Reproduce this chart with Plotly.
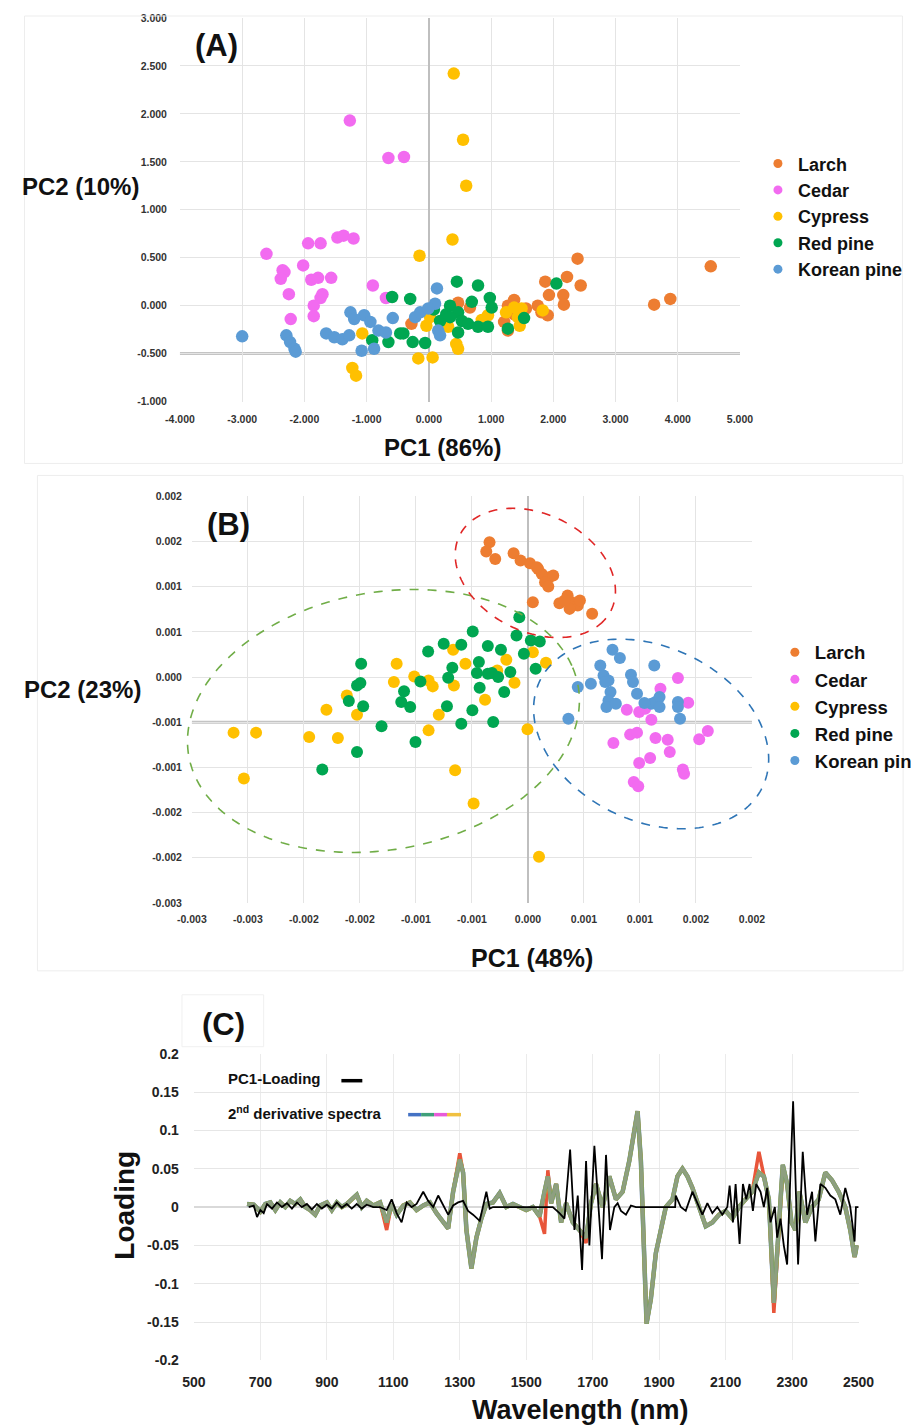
import numpy as np
import plotly.graph_objects as go

W, H = 919, 1427
# observed placement of the page in the photograph: X = 0.962*x + 20.5 ; Y = 0.99*y + 14
SX, OX, SY, OY = 0.962, 20.5, 0.99, 14.0


def px(x):
    return min(max(((x - OX) / SX) / W, 0.0), 1.0)


def py(y):
    return min(max(1 - ((y - OY) / SY) / H, 0.0), 1.0)


species = ["Larch", "Cedar", "Cypress", "Red pine", "Korean pine"]
colors = ["#ED7D31", "#F26BF0", "#FFC000", "#00A651", "#5B9BD5"]

# ---------------- Panel A (PC1 86% / PC2 10%) ----------------
larch_a_pc1 = [4.53, 3.88, 3.62, 2.39, 2.22, 2.44, 1.87, 1.93, 2.16, 2.17, 1.91, 1.75, 1.81, 1.37, 1.27, 1.21, 1.27, 1.56, 0.47, 0.66, -0.28, 1.37]
larch_a_pc2 = [0.41, 0.07, 0.01, 0.49, 0.30, 0.21, 0.25, 0.11, 0.11, 0.01, -0.10, 0.00, -0.07, 0.06, 0.00, -0.17, -0.26, -0.03, 0.03, -0.02, -0.19, -0.09]
cedar_a_pc1 = [-1.27, -0.65, -0.40, -1.47, -1.37, -1.21, -1.94, -1.74, -2.61, -2.02, -2.35, -2.32, -2.38, -1.89, -1.78, -1.57, -2.25, -1.71, -1.74, -0.90, -1.85, -2.22, -1.85, -0.69]
cedar_a_pc2 = [1.93, 1.54, 1.55, 0.71, 0.73, 0.70, 0.65, 0.65, 0.54, 0.42, 0.37, 0.35, 0.28, 0.27, 0.29, 0.29, 0.12, 0.12, 0.08, 0.21, 0.00, -0.14, -0.11, 0.08]
cypress_a_pc1 = [0.40, 0.55, 0.60, 0.38, -0.15, -1.23, -1.17, -0.17, 0.06, 0.47, 0.44, 1.24, 1.37, 1.43, 1.49, 0.95, 0.85, 0.02, 0.31, 1.46, 1.83, -0.04, -1.07]
cypress_a_pc2 = [2.42, 1.73, 1.25, 0.69, 0.52, -0.65, -0.73, -0.55, -0.54, -0.45, -0.40, -0.07, -0.02, -0.12, -0.03, -0.10, -0.15, -0.12, -0.22, -0.21, -0.05, -0.21, -0.29]
redpine_a_pc1 = [-0.59, -0.30, 0.45, 0.79, 2.05, 0.98, 1.01, 0.69, 0.34, 0.47, 0.28, 0.18, 0.53, 0.63, 0.47, 0.79, 0.95, 1.27, 1.53, -0.91, -0.65, -0.46, -0.41, -0.26, -0.06, 0.08, 0.34]
redpine_a_pc2 = [0.09, 0.07, 0.25, 0.21, 0.23, 0.08, -0.02, 0.04, 0.00, -0.07, -0.09, -0.16, -0.16, -0.19, -0.28, -0.22, -0.22, -0.24, -0.13, -0.36, -0.38, -0.29, -0.29, -0.38, -0.39, -0.04, -0.12]
korean_a_pc1 = [-3.00, -2.29, -2.23, -2.16, -2.14, -1.65, -1.52, -1.39, -1.28, -1.26, -1.04, -0.94, -1.08, -0.88, -0.81, -0.69, -0.58, -0.22, -0.14, 0.13, 0.10, 0.15, 0.18, -0.01, -1.20]
korean_a_pc2 = [-0.32, -0.31, -0.38, -0.45, -0.48, -0.29, -0.33, -0.35, -0.31, -0.07, -0.10, -0.17, -0.47, -0.45, -0.26, -0.28, -0.13, -0.12, -0.07, 0.18, 0.02, -0.26, -0.31, -0.03, -0.14]

a_ticks_x = [-4, -3, -2, -1, 0, 1, 2, 3, 4, 5]
a_ticktext_x = ["-4.000", "-3.000", "-2.000", "-1.000", "0.000", "1.000", "2.000", "3.000", "4.000", "5.000"]
a_ticks_y = [-1.0, -0.5, 0.0, 0.5, 1.0, 1.5, 2.0, 2.5, 3.0]
a_ticktext_y = ["-1.000", "-0.500", "0.000", "0.500", "1.000", "1.500", "2.000", "2.500", "3.000"]

# ---------------- Panel B (PC1 48% / PC2 23%), values in units of 1e-4 ----------------
larch_b_pc1 = [-3.43, -3.72, -2.92, -1.28, -0.66, 0.18, 0.91, 1.24, 1.90, 2.26, 1.53, 1.82, 0.44, 2.81, 3.54, 3.91, 4.45, 4.64, 3.72, 5.73, 3.28, 0.80]
larch_b_pc2 = [14.92, 13.89, 13.08, 13.71, 12.90, 12.60, 11.97, 11.42, 11.05, 11.24, 10.50, 10.02, 8.29, 8.18, 9.03, 8.29, 7.92, 8.47, 7.55, 7.00, 8.47, 12.16]
cedar_b_pc1 = [13.39, 11.83, 14.31, 8.83, 9.93, 10.47, 11.02, 9.12, 9.74, 11.39, 12.48, 7.63, 16.06, 15.29, 12.66, 9.93, 10.91, 13.83, 13.94, 9.45, 9.85]
cedar_b_pc2 = [-0.11, -1.29, -2.84, -3.61, -3.87, -3.50, -4.72, -6.37, -6.15, -6.74, -6.93, -7.30, -5.97, -6.89, -8.29, -9.51, -8.95, -10.24, -10.69, -11.61, -12.09]
cypress_b_pc1 = [-6.68, -11.72, -5.58, 0.44, 1.61, -1.93, -11.97, -10.15, -8.87, -8.50, -6.61, -2.74, -1.20, -3.83, -16.17, -17.99, -15.26, -7.96, -8.87, -26.28, -24.27, -19.53, -16.97, -0.04, -25.36, -6.50, -4.85, 0.99]
cypress_b_pc2 = [3.02, 1.47, 1.47, 2.76, 1.58, 1.92, -0.55, 0.07, -0.37, -1.03, -0.92, 0.74, -0.63, -2.51, -2.03, -3.61, -4.16, -4.16, -5.90, -6.15, -6.15, -6.63, -6.74, -5.78, -11.24, -10.32, -14.00, -19.90]
redpine_b_pc1 = [-0.77, -4.93, -1.02, 0.26, 1.06, -0.36, 0.69, -8.91, -7.52, -5.95, -3.58, -2.41, -4.38, -6.75, -3.21, -2.66, -1.57, -4.56, -7.12, -9.60, -11.06, -11.31, -10.51, -7.23, -4.31, -2.12, -4.96, -14.89, -15.26, -14.96, -15.99, -14.71, -13.07, -5.95, -3.10, -10.04, -15.26, -18.36, -3.58]
redpine_b_pc2 = [6.63, 5.05, 4.61, 4.05, 3.94, 2.58, 0.92, 2.84, 3.68, 3.57, 3.43, 3.02, 1.66, 1.03, 0.44, 0.00, 0.55, 0.44, -0.07, -0.48, -1.58, -2.76, -3.32, -3.24, -1.18, -1.66, -3.68, 1.47, -0.92, -0.66, -2.65, -3.24, -5.45, -5.16, -4.97, -7.19, -8.29, -10.24, 0.37]
korean_b_pc1 = [7.55, 8.21, 6.46, 5.62, 4.45, 6.75, 7.19, 6.90, 7.37, 7.19, 7.01, 7.85, 9.20, 9.38, 9.74, 11.28, 11.02, 11.39, 11.75, 11.75, 10.40, 13.39, 13.39, 13.58, 3.61]
korean_b_pc2 = [3.02, 2.10, 1.29, -0.74, -1.11, 0.18, -0.37, -0.55, -1.66, -2.58, -3.32, -2.95, 0.26, -0.55, -1.84, 1.29, -2.95, -2.76, -2.21, -3.32, -2.87, -2.76, -3.32, -4.61, -4.61]

b_ticks_x = [-30, -25, -20, -15, -10, -5, 0, 5, 10, 15, 20]
b_ticktext_x = ["-0.003", "-0.003", "-0.002", "-0.002", "-0.001", "-0.001", "0.000", "0.001", "0.001", "0.002", "0.002"]
b_ticks_y = [-25, -20, -15, -10, -5, 0, 5, 10, 15, 20]
b_ticktext_y = ["-0.003", "-0.002", "-0.002", "-0.001", "-0.001", "0.000", "0.001", "0.001", "0.002", "0.002"]

# cluster ellipses (centre x, centre y, semi-axis a, semi-axis b, angle deg, colour), 1e-4 units
ellipses_b = [
    (-12.9, -4.86, 17.9, 14.05, 20, "#70AD47"),
    (0.66, 11.53, 8.1, 6.06, -45, "#E02626"),
    (11.0, -6.3, 11.8, 9.0, -45, "#2E75B6"),
]

# ---------------- Panel C (loadings) ----------------
pc1_nm = [665, 680, 690, 700, 710, 720, 735, 750, 765, 780, 795, 810, 825, 840, 855, 870, 885, 900, 915, 930,
          945, 960, 975, 990, 1005, 1020, 1040, 1060, 1080, 1095, 1110, 1125, 1140, 1155, 1170, 1190, 1205, 1220,
          1235, 1250, 1265, 1280, 1295, 1310, 1325, 1340, 1360, 1380, 1390, 1400, 1450, 1500, 1550, 1580, 1600,
          1615, 1632, 1645, 1655, 1668, 1680, 1690, 1705, 1720, 1728, 1740, 1752, 1765, 1775, 1785, 1800, 1815,
          1830, 1900, 1948, 1950, 1965, 1980, 2000, 2015, 2030, 2045, 2060, 2075, 2090, 2105, 2112, 2122, 2130,
          2142, 2152, 2162, 2172, 2182, 2192, 2205, 2215, 2225, 2235, 2248, 2255, 2265, 2275, 2285, 2303, 2318,
          2332, 2345, 2360, 2370, 2385, 2400, 2415, 2430, 2445, 2460, 2475, 2488, 2492, 2500]
pc1_val = [0.0, 0.002, -0.013, -0.004, -0.008, 0.004, -0.002, 0.006, 0.0, 0.005, -0.002, 0.006, 0.0, 0.004, -0.003,
           0.004, -0.002, 0.003, -0.002, 0.006, -0.001, 0.004, -0.002, 0.004, -0.002, 0.003, 0.0, 0.0, -0.004, 0.01,
           -0.008, -0.02, 0.006, 0.0, 0.004, 0.02, 0.008, 0.0, 0.015, 0.002, -0.01, 0.002, 0.006, 0.008, -0.005,
           -0.01, -0.018, 0.02, -0.002, 0.0, 0.0, 0.0, 0.0, 0.0, -0.008, -0.015, 0.075, -0.03, 0.015, -0.082, 0.06,
           -0.05, 0.08, -0.02, -0.068, 0.068, -0.03, 0.0, 0.005, -0.005, -0.01, 0.002, 0.0, 0.0, 0.0, 0.015, 0.0,
           -0.005, 0.02, 0.005, -0.01, 0.005, -0.008, 0.0, -0.01, 0.0, 0.028, -0.02, 0.03, -0.048, 0.03, 0.01, 0.03,
           -0.005, 0.03, 0.02, 0.0, 0.025, -0.02, 0.0, -0.04, -0.015, -0.05, -0.075, 0.138, -0.075, 0.072, -0.01,
           0.02, -0.045, 0.03, 0.025, 0.015, 0.01, -0.01, 0.025, 0.0, -0.045, 0.0, 0.0]

deriv_nm = [660, 680, 700, 715, 730, 745, 760, 775, 790, 805, 820, 835, 850, 865, 880, 900, 915, 930, 945, 960, 975,
            990, 1005, 1020, 1040, 1060, 1080, 1095, 1110, 1130, 1150, 1170, 1190, 1210, 1230, 1250, 1265, 1280, 1300,
            1310, 1320, 1335, 1350, 1365, 1380, 1400, 1420, 1440, 1460, 1480, 1500, 1520, 1540, 1555, 1565, 1575,
            1590, 1605, 1620, 1640, 1660, 1680, 1695, 1710, 1730, 1750, 1770, 1790, 1810, 1825, 1835, 1845, 1852,
            1862, 1875, 1890, 1905, 1920, 1940, 1955, 1970, 1985, 2000, 2020, 2040, 2060, 2080, 2100, 2120, 2140,
            2160, 2180, 2200, 2215, 2230, 2245, 2258, 2272, 2285, 2298, 2310, 2322, 2340, 2360, 2380, 2400, 2420,
            2440, 2460, 2475, 2488, 2495]
deriv_main = [0.004, 0.003, -0.006, 0.004, 0.006, -0.004, 0.006, 0.0, 0.008, 0.004, 0.01, 0.0, -0.004, -0.01, 0.002,
              0.006, -0.004, 0.006, 0.0, 0.004, 0.01, 0.016, 0.0, 0.008, 0.002, 0.006, -0.02, 0.004, -0.01, 0.002,
              0.006, -0.004, 0.002, 0.006, -0.008, -0.02, -0.028, 0.02, 0.062, 0.045, -0.03, -0.08, -0.04, -0.015,
              0.004, 0.006, 0.018, 0.0, 0.004, 0.0, -0.004, 0.0, -0.012, 0.02, 0.04, 0.005, 0.03, -0.02, 0.005, -0.02,
              -0.03, -0.04, 0.005, 0.03, 0.0, 0.04, 0.01, 0.02, 0.06, 0.1, 0.125, 0.06, -0.04, -0.152, -0.12, -0.06,
              -0.03, 0.0, 0.01, 0.04, 0.05, 0.04, 0.025, 0.0, -0.025, -0.02, -0.01, -0.005, -0.015, 0.0, 0.01, 0.02,
              0.045, 0.04, 0.01, -0.125, -0.04, 0.055, 0.03, -0.02, -0.03, 0.02, -0.02, 0.0, 0.01, 0.045, 0.035, 0.02,
              0.0, -0.03, -0.065, -0.05]
deriv_red = [0.004, 0.003, -0.006, 0.004, 0.006, -0.004, 0.006, 0.0, 0.008, 0.004, 0.01, 0.0, -0.004, -0.01, 0.002,
             0.006, -0.004, 0.006, 0.0, 0.004, 0.01, 0.016, 0.0, 0.008, 0.002, 0.006, -0.03, 0.004, -0.01, 0.002,
             0.006, -0.004, 0.002, 0.006, -0.008, -0.02, -0.028, 0.02, 0.07, 0.045, -0.03, -0.08, -0.04, -0.015,
             0.004, 0.006, 0.018, 0.0, 0.004, 0.0, -0.004, 0.0, -0.012, -0.035, 0.048, 0.005, 0.03, -0.02, 0.005,
             -0.02, -0.03, -0.047, 0.005, 0.03, 0.0, 0.04, 0.01, 0.02, 0.06, 0.1, 0.125, 0.06, -0.04, -0.152, -0.12,
             -0.06, -0.03, 0.0, 0.01, 0.04, 0.05, 0.04, 0.025, 0.0, -0.025, -0.02, -0.01, -0.005, -0.015, 0.0, 0.01,
             0.02, 0.072, 0.04, 0.01, -0.138, -0.04, 0.05, 0.03, -0.02, -0.03, 0.02, -0.02, 0.0, 0.01, 0.045, 0.035,
             0.02, 0.0, -0.03, -0.065, -0.05]

c_ticks_x = [500, 700, 900, 1100, 1300, 1500, 1700, 1900, 2100, 2300, 2500]
c_ticktext_x = ["500", "700", "900", "1100", "1300", "1500", "1700", "1900", "2100", "2300", "2500"]
c_ticks_y = [-0.2, -0.15, -0.1, -0.05, 0.0, 0.05, 0.1, 0.15, 0.2]
c_ticktext_y = ["-0.2", "-0.15", "-0.1", "-0.05", "0", "0.05", "0.1", "0.15", "0.2"]

# ---------------- figure ----------------
BOLD = "Liberation Sans, Arial, sans-serif"
NARROW = "Liberation Sans Narrow, Arial Narrow, Liberation Sans, sans-serif"

dom_ax = [px(178), px(740)]
dom_ay = [py(400), py(16)]
dom_bx = [px(190), px(752)]
dom_by = [py(902), py(495)]
dom_cx = [px(192), px(859)]
dom_cy = [py(1360), py(1053)]
rng_bx = [-0.003, 0.002]
rng_by = [-0.0025, 0.002]

fig = go.Figure()

a_sets = [(larch_a_pc1, larch_a_pc2), (cedar_a_pc1, cedar_a_pc2), (cypress_a_pc1, cypress_a_pc2),
          (redpine_a_pc1, redpine_a_pc2), (korean_a_pc1, korean_a_pc2)]
b_sets = [(larch_b_pc1, larch_b_pc2), (cedar_b_pc1, cedar_b_pc2), (cypress_b_pc1, cypress_b_pc2),
          (redpine_b_pc1, redpine_b_pc2), (korean_b_pc1, korean_b_pc2)]

for name, col, (xs, ys) in zip(species, colors, a_sets):
    fig.add_trace(go.Scatter(x=xs, y=ys, mode="markers", name=name, showlegend=False,
                             marker=dict(size=12.5, color=col), xaxis="x", yaxis="y"))
for name, col in zip(species, colors):
    fig.add_trace(go.Scatter(x=[None], y=[None], mode="markers", name=name, legend="legend",
                             marker=dict(size=9, color=col), xaxis="x", yaxis="y"))

for name, col, (xs, ys) in zip(species, colors, b_sets):
    fig.add_trace(go.Scatter(x=np.array(xs) * 1e-4, y=np.array(ys) * 1e-4, mode="markers", name=name,
                             showlegend=False, marker=dict(size=12, color=col), xaxis="x2", yaxis="y2"))
for name, col in zip(species, colors):
    fig.add_trace(go.Scatter(x=[None], y=[None], mode="markers", name=name, legend="legend2",
                             marker=dict(size=9, color=col), xaxis="x2", yaxis="y2"))

# Panel C spectra (overlaid species) then loading line
for vals, col, wd in [(deriv_main, "#4472C4", 4.5), (deriv_red, "#E8553A", 3.5), (deriv_main, "#E0C040", 4.2),
                      (deriv_main, "#6E9E62", 4.0), (deriv_main, "#8E9F80", 3.2)]:
    fig.add_trace(go.Scatter(x=deriv_nm, y=vals, mode="lines", showlegend=False, hoverinfo="skip",
                             line=dict(color=col, width=wd), xaxis="x3", yaxis="y3"))
fig.add_trace(go.Scatter(x=pc1_nm, y=pc1_val, mode="lines", name="PC1-Loading", showlegend=False,
                         line=dict(color="#000000", width=1.8), xaxis="x3", yaxis="y3"))

grid = "#E4E4E4"
tickf_ab = dict(family=BOLD, size=10.5, color="#333333", weight="bold")
tickf_c = dict(family=NARROW, size=14, color="#222222", weight="bold")

fig.update_layout(
    width=W, height=H, margin=dict(l=0, r=0, t=0, b=0),
    paper_bgcolor="white", plot_bgcolor="white",
    xaxis=dict(domain=dom_ax, range=[-4, 5], tickvals=a_ticks_x, ticktext=a_ticktext_x,
               showgrid=True, gridcolor=grid, gridwidth=1, zeroline=True, zerolinecolor="#BFBFBF", zerolinewidth=2,
               showline=False, ticks="", tickfont=tickf_ab, ticklabelstandoff=10, anchor="y"),
    yaxis=dict(domain=dom_ay, range=[-1, 3], tickvals=a_ticks_y, ticktext=a_ticktext_y,
               showgrid=True, gridcolor=grid, gridwidth=1, zeroline=False, showline=False, ticks="",
               tickfont=tickf_ab, ticklabelstandoff=12, anchor="x"),
    xaxis2=dict(domain=dom_bx, range=rng_bx, tickvals=[v * 1e-4 for v in b_ticks_x],
                ticktext=b_ticktext_x, showgrid=True, gridcolor=grid, gridwidth=1, zeroline=True,
                zerolinecolor="#BFBFBF", zerolinewidth=2, showline=False, ticks="", tickfont=tickf_ab,
                ticklabelstandoff=9, anchor="y2"),
    yaxis2=dict(domain=dom_by, range=rng_by, tickvals=[v * 1e-4 for v in b_ticks_y],
                ticktext=b_ticktext_y, showgrid=True, gridcolor=grid, gridwidth=1, zeroline=False, showline=False,
                ticks="", tickfont=tickf_ab, ticklabelstandoff=9, anchor="x2"),
    xaxis3=dict(domain=dom_cx, range=[500, 2500], tickvals=c_ticks_x, ticktext=c_ticktext_x,
                showgrid=True, gridcolor="#EBEBEB", gridwidth=1, zeroline=False, showline=False, ticks="",
                tickfont=tickf_c, ticklabelstandoff=12, anchor="y3"),
    yaxis3=dict(domain=dom_cy, range=[-0.2, 0.2], tickvals=c_ticks_y, ticktext=c_ticktext_y,
                showgrid=True, gridcolor="#E6E6E6", gridwidth=1, zeroline=True, zerolinecolor="#D9D9D9",
                zerolinewidth=1.5, showline=False, ticks="", tickfont=tickf_c, ticklabelstandoff=14, anchor="x3"),
    legend=dict(x=px(758), y=py(143.5), xanchor="left", yanchor="top", bgcolor="rgba(0,0,0,0)",
                font=dict(family=BOLD, size=18, color="#111111", weight="bold"), itemsizing="trace",
                tracegroupgap=0, itemwidth=30),
    legend2=dict(x=px(775), y=py(632.5), xanchor="left", yanchor="top", bgcolor="rgba(0,0,0,0)",
                 font=dict(family=BOLD, size=18.5, color="#111111", weight="bold"), itemsizing="trace",
                 tracegroupgap=0, itemwidth=30),
    showlegend=True,
)


def b_to_paper(xv, yv):
    xp = dom_bx[0] + (xv - rng_bx[0]) / (rng_bx[1] - rng_bx[0]) * (dom_bx[1] - dom_bx[0])
    yp = dom_by[0] + (yv - rng_by[0]) / (rng_by[1] - rng_by[0]) * (dom_by[1] - dom_by[0])
    return xp, yp


shapes = [
    # panel frames
    dict(type="rect", xref="paper", yref="paper", x0=px(22), x1=px(903), y0=py(462), y1=py(2),
         line=dict(color="#EDEDED", width=1)),
    dict(type="rect", xref="paper", yref="paper", x0=px(35), x1=0.999, y0=py(970), y1=py(474),
         line=dict(color="#EDEDED", width=1)),
    dict(type="rect", xref="paper", yref="paper", x0=px(180), x1=px(262), y0=py(1046), y1=py(994),
         line=dict(color="#F0F0F0", width=1)),
    # crossing axes
    dict(type="line", xref="x domain", yref="y", x0=0.0, x1=1.0, y0=-0.5, y1=-0.5,
         line=dict(color="#C4C4C4", width=3), layer="below"),
    dict(type="line", xref="x2 domain", yref="y2", x0=0.0, x1=1.0, y0=-0.0005, y1=-0.0005,
         line=dict(color="#C4C4C4", width=3), layer="below"),
    # panel C legend swatches
    dict(type="line", xref="paper", yref="paper", x0=px(340), x1=px(361), y0=py(1080), y1=py(1080),
         line=dict(color="#000000", width=3.5)),
]

# cluster ellipses of panel B (may extend past the plot area, as in the original)
t = np.linspace(0, 2 * np.pi, 240)
for cx, cy, a, b, ang, col in ellipses_b:
    th = np.deg2rad(ang)
    ex = (cx + a * np.cos(th) * np.cos(t) - b * np.sin(th) * np.sin(t)) * 1e-4
    ey = (cy + a * np.sin(th) * np.cos(t) + b * np.cos(th) * np.sin(t)) * 1e-4
    xp, yp = b_to_paper(ex, ey)
    path = "M " + " L ".join(f"{u:.5f},{v:.5f}" for u, v in zip(xp, yp)) + " Z"
    shapes.append(dict(type="path", xref="paper", yref="paper", path=path,
                       line=dict(color=col, width=1.6, dash="dash")))

sw = [("#4472C4", 407, 420), ("#3FA07A", 420, 433), ("#E85AD8", 433, 446), ("#F0C040", 446, 460)]
for col, x0, x1 in sw:
    shapes.append(dict(type="line", xref="paper", yref="paper", x0=px(x0), x1=px(x1), y0=py(1114), y1=py(1114),
                       line=dict(color=col, width=3.5)))
fig.update_layout(shapes=shapes)


def ann(text, x, y, size, xanchor="center", family=BOLD, angle=0):
    return dict(text=text, x=px(x), y=py(y), xref="paper", yref="paper", showarrow=False, xanchor=xanchor,
                yanchor="middle", textangle=angle,
                font=dict(family=family, size=size, color="#111111", weight="bold"))


annotations = [
    ann("(A)", 215, 44, 31),
    ann("PC2 (10%)", 78, 185, 24),
    ann("PC1 (86%)", 441, 446, 24),
    ann("(B)", 227, 523, 31),
    ann("PC2 (23%)", 80, 688, 24),
    ann("PC1 (48%)", 531, 957, 25),
    ann("(C)", 222, 1024, 31),
    ann("Loading", 122, 1205, 28, angle=-90),
    ann("Wavelength (nm)", 580, 1410, 27),
    ann("PC1-Loading", 224, 1078, 15, xanchor="left", family=NARROW),
    ann("2<sup>nd</sup> derivative spectra", 224, 1112, 15, xanchor="left", family=NARROW),
]
fig.update_layout(annotations=annotations)

fig.write_html("out.html")
